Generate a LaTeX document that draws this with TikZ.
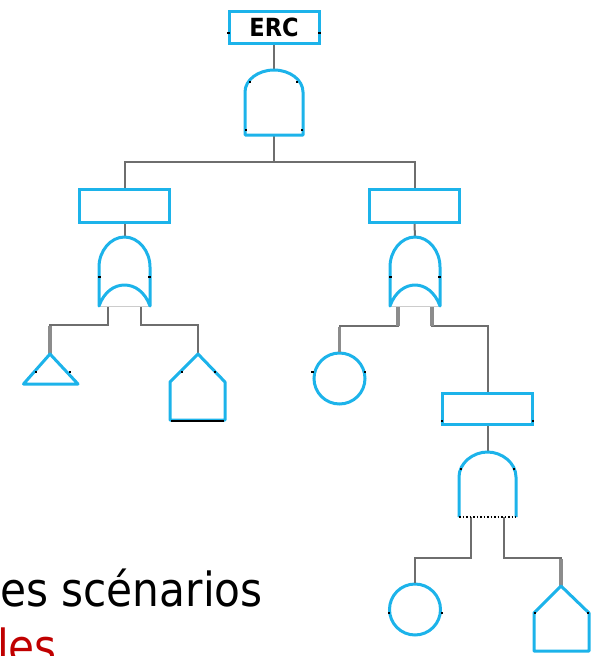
\documentclass[tikz,border=0pt]{standalone}
\usepackage{fontspec}
\newfontfamily\txtfont[FakeStretch=0.9]{DejaVu Sans}
\newfontfamily\ercfont[FakeStretch=0.9]{DejaVu Sans}
\definecolor{fblue}{HTML}{1CB3EA}
\definecolor{wgray}{HTML}{6E6E6E}
\definecolor{wgrayl}{HTML}{8C8C8C}
\definecolor{tred}{HTML}{C00000}
\tikzset{
  gate/.style={draw=fblue, line width=3pt, line join=round},
  wire/.style={draw=wgray, line width=2pt},
  thickwire/.style={draw=wgrayl, line width=3.4pt},
  evbox/.style={draw=fblue, line width=3pt, fill=white, rectangle, inner sep=0pt, minimum width=90pt, minimum height=33pt},
  basic/.style={draw=fblue, line width=3pt, fill=white, circle, inner sep=0pt, minimum size=51pt},
  tick/.style={fill=black, inner sep=0pt, minimum width=2.5pt, minimum height=1.5pt, rectangle},
}
\begin{document}
\begin{tikzpicture}[x=1pt,y=-1pt]
\useasboundingbox (0,0) rectangle (591,656);
\clip (0,0) rectangle (591,656);

% ---------- named coordinates for gate / shape ports ----------
\coordinate (and1top) at (274,70);
\coordinate (and1bot) at (274,135);
\coordinate (j1) at (274,162);
\coordinate (or1top) at (124.5,237);
\coordinate (or1a) at (108,306);
\coordinate (or1b) at (141,306);
\coordinate (or2top) at (415,237);
\coordinate (or2a) at (398,306);
\coordinate (or2b) at (432,306);
\coordinate (and2top) at (487.5,452);
\coordinate (and2a) at (471,517);
\coordinate (and2b) at (504,517);
\coordinate (tri1top) at (50,354);
\coordinate (house1top) at (198,354);
\coordinate (house2top) at (561,586);

% ---------- event boxes and basic events ----------
\node[evbox, minimum height=32pt] (erc) at (274,27.5) {\ercfont\bfseries\fontsize{25}{25}\selectfont ERC};
\node[evbox] (lbox) at (124.5,206) {};
\node[evbox] (rbox) at (414.5,206) {};
\node[evbox, minimum height=31pt] (bbox) at (487.5,409) {};
\node[basic] (c1) at (339.5,378.5) {};
\node[basic] (c2) at (415,609.5) {};

% ---------- connectors ----------
\draw[wire] (erc.south) -- (and1top);
\draw[wire] (and1bot) -- (j1) -| (lbox.north);
\draw[wire] (j1) -| (rbox.north);
\draw[wire] (lbox.south) -- (or1top);
\draw[wire] (rbox.south) -- (or2top);
\draw[wire] (or1a) -- ++(0,19) -| (tri1top);
\draw[wire] (or1b) -- ++(0,19) -| (house1top);
\draw[wire] (or2a) -- ++(0,20) -| (c1.north);
\draw[wire] (or2b) -- ++(0,20) -| (bbox.north);
\draw[wire] (bbox.south) -- (and2top);
\draw[wire] (and2a) -- ++(0,41) -| (c2.north);
\draw[wire] (and2b) -- ++(0,41) -| (house2top);
% heavier segments
\draw[thickwire] (tri1top) -- ++(0,-28);
\draw[thickwire] (c1.north) -- ++(0,-25);
\draw[thickwire] (or2a) -- ++(0,20);
\draw[thickwire] (or2b) -- ++(0,20);
\draw[thickwire] (house2top) -- ++(0,-27);

% ---------- AND gate 1 ----------
\draw[gate] (245,135) -- (245,92) .. controls (245,80) and (258,70) .. (and1top)
  .. controls (290,70) and (303,80) .. (303,92) -- (303,135) -- cycle;
% ---------- OR gate 1 ----------
\draw[draw=black!20, line width=0.8pt] (99,306) -- (150,306);
\draw[gate] (99,306) -- (99,267) .. controls (99,251) and (110.5,237) .. (or1top)
  .. controls (138.5,237) and (150,251) .. (150,267) -- (150,306)
  .. controls (145,292) and (135,285) .. (124.5,285)
  .. controls (114,285) and (104,292) .. cycle;
% ---------- OR gate 2 ----------
\draw[draw=black!20, line width=0.8pt] (390,306) -- (440,306);
\draw[gate] (390,306) -- (390,267) .. controls (390,251) and (401,237) .. (or2top)
  .. controls (429,237) and (440,251) .. (440,267) -- (440,306)
  .. controls (435,292) and (425,285) .. (415,285)
  .. controls (405,285) and (395,292) .. cycle;
% ---------- AND gate 2 ----------
\draw[gate] (459,517) -- (459,477) .. controls (459,463) and (473,452) .. (and2top)
  .. controls (502,452) and (516,463) .. (516,477) -- (516,517);
\draw[black, line width=1.5pt, dotted] (459,517) -- (516,517);
% ---------- triangle (transfer) ----------
\draw[gate] (tri1top) -- (78,384) -- (23.5,384) -- cycle;
% ---------- houses ----------
\draw[gate] (house1top) -- (225,382) -- (225,420) -- (170,420) -- (170,382) -- cycle;
\draw[black, line width=1.5pt] (171,421) -- (224,421);
\draw[gate] (house2top) -- (589,613) -- (589,651) -- (534,651) -- (534,613) -- cycle;

% ---------- small black port ticks ----------
\foreach \p in {(228.5,33),(319.5,33),(250,82),(297,82),(246,130),(302,130),
  (99.5,277),(149.5,277),(390.5,277),(439.5,277),(36,372),(70,372),(182,372),(215,372),
  (312.5,372),(365,372),(442,421),(533,421),(461,469),(514,469),(389,613),(442,613),
  (535,613),(588,613)}
  \node[tick] at \p {};

% ---------- text ----------
\node[anchor=base west, inner sep=0pt, font=\txtfont\fontsize{47}{47}\selectfont] (t1) at (0,606) {es scénarios};
\node[anchor=base west, inner sep=0pt, text=tred, font=\txtfont\fontsize{47}{47}\selectfont] (t2) at (-3,663) {les};
\end{tikzpicture}
\end{document}
